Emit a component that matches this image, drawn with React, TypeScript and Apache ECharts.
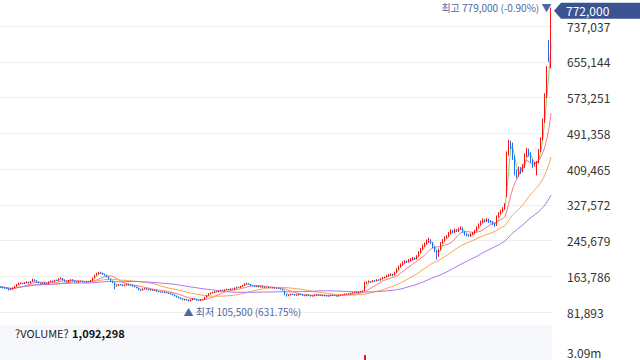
import React, { useEffect, useRef } from "react";
import * as echarts from "echarts";

// One entry per trading day: [open, close, low, high] in thousand KRW
const CANDLES_K: number[][] = [
  [140,139,137,141],[139,138,136,140],[138,137,135,139],[137,135,134,138],[135,133,131,136],
  [133,134,132,136],[134,137,133,138],[137,141,136,142],[141,145,140,146],[145,147,144,149],
  [147,148,146,150],[148,147,145,149],[147,149,146,150],[149,150,148,152],[150,148,147,151],
  [148,152,147,153],[152,156,151,158],[156,153,152,157],[153,150,149,154],[150,148,147,151],
  [148,147,145,149],[147,149,146,150],[149,146,145,150],[146,147,145,148],[147,151,146,152],
  [151,153,150,154],[153,152,151,154],[152,155,151,156],[155,154,153,156],[154,158,153,159],
  [158,159,157,161],[159,155,154,160],[155,152,151,156],[152,150,149,153],[150,154,149,155],
  [154,156,153,157],[156,153,152,157],[153,151,150,154],[151,150,149,152],[150,152,149,153],
  [152,153,151,154],[153,151,150,154],[151,150,149,152],[150,152,149,153],[152,151,150,153],
  [151,153,150,155],[153,160,152,161],[160,166,159,167],[166,170,165,172],[170,172,168,174],
  [172,171,169,174],[171,168,167,172],[168,166,165,169],[166,162,161,167],[162,157,156,163],
  [157,152,151,158],[152,149,148,153],[148,141,134,149],[141,143,140,144],[143,145,142,146],
  [145,144,143,146],[144,142,141,145],[142,144,141,145],[144,146,143,147],[146,143,142,147],
  [143,144,142,145],[144,141,140,145],[141,139,138,142],[139,137,136,140],[137,133,132,138],
  [133,132,130,134],[132,135,131,136],[135,136,134,137],[136,134,133,137],[134,132,131,135],
  [132,133,131,134],[133,131,130,134],[131,132,130,133],[132,129,128,133],[129,128,127,130],
  [128,127,126,129],[127,128,126,129],[128,126,125,129],[126,125,124,127],[125,125,123,126],
  [125,123,122,126],[123,121,120,124],[121,118,117,122],[118,116,115,119],[116,114,113,117],
  [114,112,111,115],[112,110,109,113],[110,111,108,112],[111,109,108,112],[109,107,105.5,110],
  [107,110,106,111],[110,113,109,114],[113,111,110,114],[111,109,108,112],[109,108,107,110],
  [108,110,107,111],[110,111,109,112],[111,116,110,117],[116,120,115,121],[120,124,119,125],
  [124,126,123,127],[126,127,125,128],[127,129,126,130],[129,128,127,130],[128,130,127,131],
  [130,132,129,133],[132,131,130,133],[131,133,130,134],[133,134,132,135],[134,133,132,135],
  [133,135,132,136],[135,134,133,136],[134,137,133,138],[137,139,136,140],[139,138,137,140],
  [138,141,137,142],[141,143,140,144],[143,146,142,148],[146,147,145,149],[147,145,144,148],
  [145,142,141,146],[142,141,140,143],[141,140,139,142],[140,141,139,142],[141,139,138,142],
  [139,140,138,141],[140,138,137,141],[138,139,137,140],[139,139,138,140],[139,138,137,140],
  [138,137,136,139],[137,138,136,139],[138,136,135,139],[136,137,135,138],[137,135,134,138],
  [135,134,133,136],[134,132,131,135],[130,122,120,131],[122,119,117,123],[119,121,118,122],
  [121,123,120,124],[123,122,121,124],[122,120,119,123],[120,121,119,122],[121,123,120,124],
  [123,122,121,124],[122,120,119,123],[120,119,118,121],[119,121,118,122],[121,120,119,122],
  [120,118,117,121],[118,119,117,120],[119,121,118,122],[121,122,120,123],[122,120,119,123],
  [120,121,119,122],[121,119,118,122],[119,120,118,121],[120,118,117,121],[118,119,117,120],
  [119,121,118,122],[121,120,119,122],[120,119,118,121],[119,118,117,120],[118,120,117,121],
  [120,121,119,122],[121,122,120,123],[122,123,121,124],[123,124,122,125],[124,123,122,125],
  [123,125,122,126],[125,126,124,127],[126,127,125,128],[127,126,125,128],[126,128,125,129],
  [128,129,127,130],[129,130,128,131],[131,148,130,151],[148,150,146,152],[150,152,149,154],
  [152,151,149,153],[151,154,150,155],[154,153,151,155],[153,156,152,157],[156,155,153,157],
  [155,158,154,159],[158,160,157,162],[160,162,159,163],[162,165,161,167],[165,167,163,169],
  [167,168,165,170],[168,166,164,170],[166,172,165,174],[172,180,171,182],[180,186,178,188],
  [186,190,184,193],[190,195,188,198],[195,198,193,201],[198,196,194,200],[196,200,195,203],
  [200,202,198,205],[202,205,200,208],[205,203,201,207],[203,210,202,212],[210,218,208,221],
  [218,226,216,229],[226,233,224,236],[233,238,231,241],[238,243,236,248],[243,247,240,252],
  [247,240,238,249],[240,230,228,242],[230,222,219,232],[222,210,202,224],[210,225,208,227],
  [225,240,223,242],[240,246,238,249],[246,252,244,255],[252,255,250,258],[255,262,253,265],
  [262,268,260,271],[268,265,262,270],[265,270,263,273],[270,267,265,272],[267,272,265,275],
  [272,274,270,278],[274,265,263,276],[265,260,257,267],[260,258,255,262],[258,256,254,260],
  [256,260,254,262],[260,262,258,265],[262,268,260,270],[268,275,266,278],[275,282,273,285],
  [282,288,280,291],[288,292,286,296],[292,290,287,295],[290,293,288,297],[293,289,286,296],
  [289,288,285,292],[288,284,281,290],[284,280,277,286],[280,300,279,303],[300,308,298,311],
  [308,313,305,316],[313,318,310,322],[318,327,316,331],[350,445,345,450],[445,470,440,476],
  [470,465,455,474],[465,435,430,470],[435,400,395,440],[400,395,388,408],[395,410,392,415],
  [410,405,398,414],[405,415,402,420],[415,440,412,445],[440,452,436,458],[452,445,438,456],
  [445,428,424,448],[428,418,412,432],[418,422,415,426],[422,425,395,428],[425,450,422,455],
  [450,478,448,482],[478,520,475,525],[520,578,515,583],[578,640,572,645],[690,670,655,705],
  [645,772,640,779],
];

// Readable volume bars: [day index, shares]
const VOLUME_POINTS: number[][] = [
  [182, 3004000],
  [275, 1092298],
];

const MA_PERIODS = [3, 10, 30, 60];
const MA_COLORS = ["#6fdc6f", "#ff7b7b", "#ffa451", "#ad78ef"];

const PRICE_STEP = 81893;
const PRICE_MAX = 796612;
const VOLUME_STEP = 3090000;
const VOLUME_MAX = 3862500;

const UP = "#ff1010";
const DOWN = "#1f6ff5";
const FONT = "'Noto Sans CJK KR', 'Noto Sans', sans-serif";

const DAYS = CANDLES_K.map((_, i) => `D${i + 1}`);
const OHLC = CANDLES_K.map((c) => c.map((v) => v * 1000));
const CLOSES = OHLC.map((c) => c[1]);

function movingAverage(values: number[], n: number) {
  return values.map((_, i) => {
    const s = Math.max(0, i - n + 1);
    let sum = 0;
    for (let k = s; k <= i; k++) sum += values[k];
    return Math.round(sum / (i - s + 1));
  });
}

const fmt = (v: number) => Math.round(v).toLocaleString("en-US");

export default function App() {
  const ref = useRef<HTMLDivElement>(null);

  useEffect(() => {
    document.body.style.margin = "0";
    document.body.style.overflow = "hidden";
    document.documentElement.style.overflow = "hidden";
    const chart = echarts.init(ref.current!, undefined, { renderer: "svg" });

    const last = OHLC.length - 1;
    const lastClose = CLOSES[last];
    let hiIdx = 0;
    let loIdx = 0;
    OHLC.forEach((c, i) => {
      if (c[3] > OHLC[hiIdx][3]) hiIdx = i;
      if (c[2] < OHLC[loIdx][2]) loIdx = i;
    });
    const hiVal = OHLC[hiIdx][3];
    const loVal = OHLC[loIdx][2];
    const hiText = `최고 ${fmt(hiVal)} (${(((lastClose - hiVal) / hiVal) * 100).toFixed(2)}%) ▼`;
    const loText = `▲ 최저 ${fmt(loVal)} (${(((lastClose - loVal) / loVal) * 100).toFixed(2)}%)`;

    const volumes: any[] = DAYS.map(() => null);
    VOLUME_POINTS.forEach(([i, v]) => {
      const up = OHLC[i][1] >= OHLC[i][0];
      volumes[i] = { value: v, itemStyle: { color: up ? UP : DOWN } };
    });
    const lastVolume = VOLUME_POINTS.find((p) => p[0] === last)?.[1] ?? 0;

    const labelAnchor = {
      symbol: "rect",
      symbolSize: 1,
      itemStyle: { color: "rgba(0,0,0,0)" },
    };

    chart.setOption({
      animation: false,
      backgroundColor: "#ffffff",
      grid: [
        { left: 0, right: 88, top: 0, bottom: 112.25, show: false },
        {
          left: 0,
          right: 88,
          top: 325,
          bottom: 0,
          show: true,
          backgroundColor: "#f6f8fb",
          borderWidth: 0,
        },
      ],
      xAxis: [
        {
          type: "category",
          data: DAYS,
          gridIndex: 0,
          boundaryGap: true,
          axisLine: { show: false },
          axisTick: { show: false },
          axisLabel: { show: false },
          splitLine: { show: false },
        },
        {
          type: "category",
          data: DAYS,
          gridIndex: 1,
          boundaryGap: true,
          axisLine: { show: false },
          axisTick: { show: false },
          axisLabel: { show: false },
          splitLine: { show: false },
        },
      ],
      yAxis: [
        {
          type: "value",
          gridIndex: 0,
          position: "right",
          min: 0,
          max: PRICE_MAX,
          interval: PRICE_STEP,
          axisLine: { show: false },
          axisTick: { show: false },
          axisLabel: {
            formatter: (v: number) => fmt(v),
            color: "#333333",
            fontSize: 12,
            fontFamily: FONT,
            margin: 15,
            showMinLabel: false,
            showMaxLabel: false,
          },
          splitLine: {
            show: true,
            showMinLine: false,
            showMaxLine: false,
            lineStyle: { color: "#eeeeee", width: 1 },
          },
        },
        {
          type: "value",
          gridIndex: 1,
          position: "right",
          min: 0,
          max: VOLUME_MAX,
          interval: VOLUME_STEP,
          axisLine: { show: false },
          axisTick: { show: false },
          splitLine: { show: false },
          axisLabel: {
            formatter: (v: number) => (v / 1e6).toFixed(2) + "m",
            color: "#333333",
            fontSize: 12,
            fontFamily: FONT,
            margin: 15,
            showMinLabel: false,
            showMaxLabel: false,
          },
        },
      ],
      series: [
        ...MA_PERIODS.map((n, k) => ({
          type: "line",
          name: `MA${n}`,
          xAxisIndex: 0,
          yAxisIndex: 0,
          data: movingAverage(CLOSES, n),
          showSymbol: false,
          symbol: "none",
          smooth: false,
          lineStyle: { color: MA_COLORS[k], width: 1 },
          z: 2,
        })),
        {
          type: "candlestick",
          xAxisIndex: 0,
          yAxisIndex: 0,
          data: OHLC,
          barWidth: 1,
          z: 3,
          itemStyle: {
            color: UP,
            color0: DOWN,
            borderColor: UP,
            borderColor0: DOWN,
            borderWidth: 1,
          },
          markPoint: {
            silent: true,
            animation: false,
            data: [
              {
                coord: [hiIdx, hiVal],
                ...labelAnchor,
                label: {
                  show: true,
                  formatter: hiText,
                  position: [1, 0.5],
                  align: "right",
                  verticalAlign: "middle",
                  color: "#4f67a6",
                  fontSize: 10,
                  fontFamily: FONT,
                },
              },
              {
                coord: [loIdx, loVal],
                ...labelAnchor,
                label: {
                  show: true,
                  formatter: loText,
                  position: [-5, 10],
                  align: "left",
                  verticalAlign: "middle",
                  color: "#4f67a6",
                  fontSize: 10,
                  fontFamily: FONT,
                },
              },
              {
                coord: [last, lastClose],
                symbol: "path://M0,8L7,0L86,0L86,16L7,16Z",
                symbolSize: [86, 16],
                symbolOffset: [46, 0],
                itemStyle: { color: "#3b5491" },
                label: {
                  show: true,
                  formatter: fmt(lastClose),
                  position: "insideLeft",
                  distance: 12,
                  color: "#ffffff",
                  fontSize: 12,
                  fontFamily: FONT,
                },
              },
            ],
          },
        },
        {
          type: "bar",
          xAxisIndex: 1,
          yAxisIndex: 1,
          data: volumes,
          barWidth: 2,
        },
      ],
      graphic: [
        {
          type: "text",
          x: 15,
          y: 333,
          style: {
            text: `{a|?VOLUME?} {b|${fmt(lastVolume)}}`,
            verticalAlign: "middle",
            rich: {
              a: { fontSize: 11, fontFamily: FONT, fill: "#222222", color: "#222222" },
              b: { fontSize: 11, fontFamily: FONT, fontWeight: "bold", fill: "#111111", color: "#111111" },
            },
          },
        },
      ],
    });

    return () => chart.dispose();
  }, []);

  return (
    <div style={{ width: 640, height: 360, overflow: "hidden" }}>
      <div ref={ref} style={{ width: 640, height: 460 }} />
    </div>
  );
}
